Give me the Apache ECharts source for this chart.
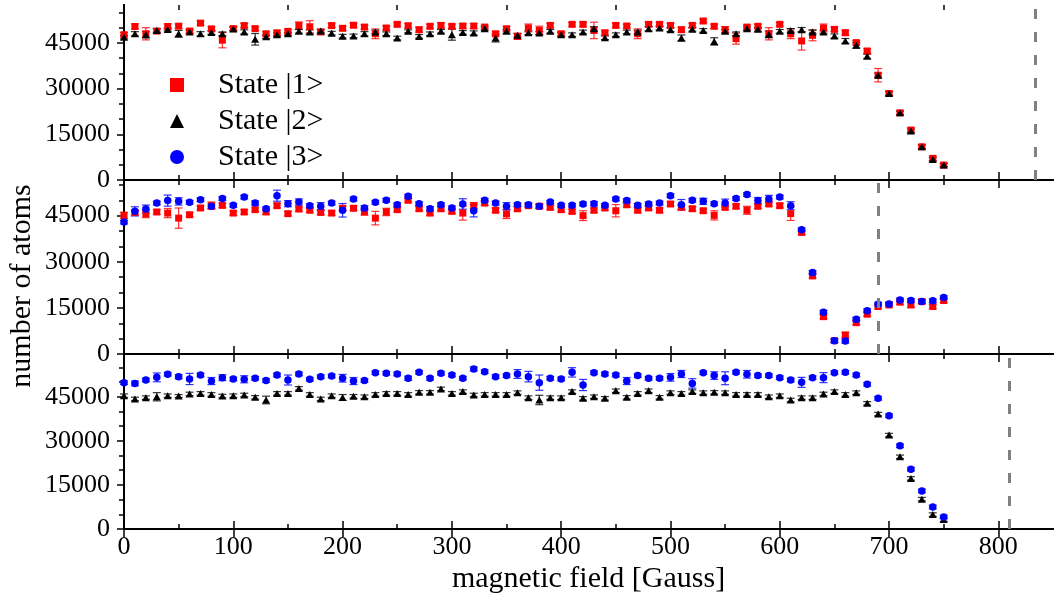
<!DOCTYPE html>
<html><head><meta charset="utf-8">
<script src="https://cdn.jsdelivr.net/npm/echarts@6/dist/echarts.min.js"></script>
<style>html,body{margin:0;padding:0;background:#fff}#c{width:1059px;height:601px}</style>
</head><body><div id="c"></div>
<script>
// ---------- data ----------
const fieldGauss = [0,10,20,30,40,50,60,70,80,90,100,110,120,130,140,150,160,170,180,190,
  200,210,220,230,240,250,260,270,280,290,300,310,320,330,340,350,360,370,380,390,
  400,410,420,430,440,450,460,470,480,490,500,510,520,530,540,550,560,570,580,590,
  600,610,620,630,640,650,660,670,680,690,700,710,720,730,740,750];

// panel 1 (top): state |1> and |2>
const p1State1 = [47700,50400,48000,48900,50400,50500,48900,51500,49600,45900,
  49700,50700,49700,48000,48300,48800,50700,50300,48600,50700,
  49800,50800,50200,48000,49900,51100,50650,49350,50450,50750,
  50450,50550,50550,50200,48000,49650,47150,49900,49100,50750,
  48000,51100,51100,49100,48350,50750,50550,48000,51100,51100,
  50750,49350,50750,52200,50450,49350,46400,50200,50450,48000,
  51100,48000,45650,47500,49900,49450,48350,45100,42350,34400,
  28400,22050,16400,10900,7100,4900];
const p1State1Err = [700,800,2000,700,900,700,600,700,700,2500,
  700,700,600,700,800,700,1200,2000,700,600,
  700,700,700,1600,700,600,700,800,700,900,
  700,700,800,600,700,700,1000,1300,1400,700,
  700,600,700,2700,700,700,600,1600,700,700,
  700,800,700,600,700,1000,1800,700,700,2000,
  600,1600,3000,1800,1300,700,800,700,700,2200,
  700,600,700,600,700,600];
const p1State2 = [46900,48000,47700,49100,49400,48000,48600,48000,48400,48000,
  49600,48600,46200,47000,47700,48000,48800,48600,48900,48200,
  47200,47300,48000,48600,48000,46600,48800,47150,48000,48800,
  47700,48450,48250,49650,46600,48800,47500,48350,48250,48800,
  47700,47700,48600,49650,46700,47700,48600,48600,49650,49900,
  49350,46600,49450,49100,45500,48800,48000,49650,49450,47800,
  48800,49100,49350,48600,48600,47250,45650,44200,40600,34400,
  28400,22050,16050,10900,6750,4900];
const p1State2Err = [600,700,1000,600,500,1100,600,700,600,600,
  600,700,1900,600,600,500,600,700,600,600,
  600,600,700,600,600,600,500,600,600,600,
  1800,600,700,600,1300,600,600,600,500,600,
  600,600,600,700,600,600,600,600,700,600,
  600,1000,600,600,1200,600,600,600,600,1100,
  600,600,700,600,600,700,800,900,700,700,
  600,600,600,600,600,500];

// panel 2 (middle): state |1> and |3>
const p2State1 = [45100,46050,45650,46200,45850,44200,45300,47500,48250,48350,
  45850,46200,46950,46200,48250,45650,47150,46750,46050,45850,
  47400,47400,46200,44200,46200,46950,50000,47250,45850,47250,
  46400,45850,48250,49100,46750,45550,47250,48250,48050,47700,
  46950,46400,45000,46750,47500,46600,48550,46750,47500,46750,
  48800,47700,47250,46600,45100,47700,48050,46750,48050,48800,
  48250,45650,39550,25400,12150,4350,6200,10200,12950,15450,
  15950,16850,15950,17050,15450,17400];
const p2State1Err = [1000,700,1300,700,1500,3300,700,600,1200,700,
  700,700,600,800,700,700,700,600,700,700,
  700,700,1000,2200,1200,700,600,700,800,700,
  700,2300,1000,700,700,1500,700,600,700,700,
  700,700,1600,700,700,2000,700,700,600,700,
  700,700,700,600,1500,700,700,1300,700,700,
  700,2200,700,700,700,600,800,700,700,700,
  700,700,800,700,700,700];
const p2State3 = [42900,46400,47150,49100,49900,49650,49350,50200,48050,50550,
  48350,51050,49100,47250,51500,48900,49450,48250,48050,49100,
  46750,50400,47500,49350,50000,48550,51300,48900,47250,48550,
  47500,48800,46600,50000,49100,48050,48550,48550,48050,49450,
  48350,48350,48800,48900,48350,50400,49900,48350,48800,49100,
  51500,48550,50000,49650,48900,49100,50550,51850,49900,50400,
  51050,48250,40400,26500,13600,4350,4250,11300,14100,16200,
  16300,17600,17400,17050,17300,18350];
const p2State3Err = [600,1500,1300,600,1800,1200,600,600,700,600,
  600,600,700,600,1800,1000,1000,600,1200,600,
  2200,600,700,600,600,600,600,600,700,600,
  600,1700,2000,600,600,1200,600,600,600,500,
  600,600,600,700,600,600,600,600,600,600,
  600,1700,600,1000,600,1300,600,600,1000,1200,
  600,1300,600,600,600,600,700,600,600,600,
  600,600,600,600,600,600];

// panel 3 (bottom): state |2> and |3>
const p3State2 = [45350,44250,44700,45000,45350,45250,45950,46150,45800,45250,
  45350,45600,44800,43900,46150,46150,47850,45800,44250,45350,
  44750,45150,45000,45800,46150,46150,45800,46500,46500,47650,
  46150,46750,45600,45800,45800,45800,46400,44700,43900,44700,
  44700,46750,44450,45000,44450,47050,44800,46150,47050,44800,
  46400,46150,46750,46400,46500,46400,45800,45800,45800,45000,
  45350,43900,44700,44700,45950,46750,45800,46400,42750,39100,
  31950,24550,17200,10150,4900,3200];
const p3State2Err = [600,600,600,1400,600,500,600,600,600,600,
  600,600,600,1300,600,600,600,600,600,600,
  1000,600,600,600,600,600,600,600,600,600,
  600,600,600,600,600,600,600,600,1600,600,
  600,600,600,600,600,600,600,600,600,600,
  600,600,600,600,600,600,600,600,600,600,
  600,600,600,600,600,600,600,600,600,600,
  600,600,600,600,600,600];
const p3State3 = [49800,49550,50700,51600,52650,51850,51050,52400,50350,51500,
  51050,50950,51300,50500,52400,50700,52750,50950,51850,52050,
  51300,50350,50500,53200,53000,52750,51300,53300,51300,53000,
  52400,51300,54450,53550,51850,52200,52750,51850,49800,51300,
  51050,53300,49000,53200,52750,52400,50350,52200,51300,51300,
  51600,52750,49550,53200,52200,51300,53300,52650,52200,52200,
  51500,50700,49900,51500,51500,53200,53300,52400,49250,44450,
  38550,28300,20350,12950,7500,4100];
const p3State3Err = [600,800,600,1500,600,700,1900,600,1200,1000,
  600,1200,600,600,600,1700,600,600,600,600,
  1300,1200,600,600,600,600,700,600,600,600,
  600,600,700,600,600,600,1500,1800,2600,600,
  600,1600,1900,600,600,600,1200,600,600,600,
  1300,1200,1600,600,1300,2200,600,1300,600,600,
  600,600,1700,600,1700,600,600,600,600,600,
  600,600,600,600,600,600];

// dashed reference lines (Gauss), one per panel
const thresholds = [834, 690, 810];

// tick labels
const xMajorTicks = [0,100,200,300,400,500,600,700,800];
const xMinorTicks = [50,150,250,350,450,550,650,750];
const yMajorTicks = [0,15000,30000,45000];
const yMinorTicks = [5000,10000,20000,25000,35000,40000,50000,55000];
const yRightTicks = [5000,10000,15000,20000,25000,30000,35000,40000,45000,50000,55000];
const yMax = [57450, 56600, 59550];

const seriesNames = ['State |1>', 'State |2>', 'State |3>'];
const xTitle = 'magnetic field [Gauss]';
const yTitle = 'number of atoms';

// ---------- chart ----------
const FONT = '"Liberation Serif", "Times New Roman", serif';
const RED = '#ff0000', BLACK = '#000000', BLUE = '#0000ff';
const style1 = {name: seriesNames[0], color: RED, symbol: 'rect', size: 7};
const style2 = {name: seriesNames[1], color: BLACK, symbol: 'triangle', size: [8, 7]};
const style3 = {name: seriesNames[2], color: BLUE, symbol: 'circle', size: 7.5};

const panels = [
  [{...style1, v: p1State1, e: p1State1Err}, {...style2, v: p1State2, e: p1State2Err}],
  [{...style1, v: p2State1, e: p2State1Err}, {...style3, v: p2State3, e: p2State3Err}],
  [{...style2, v: p3State2, e: p3State2Err}, {...style3, v: p3State3, e: p3State3Err}]
];

const grids = [
  {left: 124, right: 6, top: 5, height: 175},
  {left: 124, right: 6, top: 180, height: 174},
  {left: 124, right: 6, top: 354, height: 175}
];

const axLine = {show: true, lineStyle: {color: '#000', width: 2}};
const tickStyle = {color: '#000', width: 1.5};
const xAxes = [], yAxes = [], series = [];

grids.forEach((g, gi) => {
  const last = gi === grids.length - 1;
  const xb = {min: 0, max: 850, type: 'value', gridIndex: gi, splitLine: {show: false}};
  xAxes.push(Object.assign({}, xb, {
    position: 'bottom', axisLine: axLine,
    axisTick: {inside: true, length: 8, lineStyle: tickStyle, customValues: xMajorTicks},
    axisLabel: {show: last, customValues: xMajorTicks, margin: 5, fontSize: 26, color: '#000', fontFamily: FONT,
      formatter: v => String(v)},
    name: last ? xTitle : '', nameLocation: 'middle', nameGap: 35,
    nameTextStyle: {fontSize: 30, color: '#000', fontFamily: FONT}
  }));
  xAxes.push(Object.assign({}, xb, {
    position: 'bottom', axisLine: {show: false},
    axisTick: {inside: true, length: 5, lineStyle: tickStyle, customValues: xMinorTicks},
    axisLabel: {show: false}
  }));
  xAxes.push(Object.assign({}, xb, {
    position: 'top', axisLine: axLine,
    axisTick: {inside: true, length: 8, lineStyle: tickStyle, customValues: xMajorTicks},
    axisLabel: {show: false}
  }));
  xAxes.push(Object.assign({}, xb, {
    position: 'top', axisLine: {show: false},
    axisTick: {inside: true, length: 5, lineStyle: tickStyle, customValues: xMinorTicks},
    axisLabel: {show: false}
  }));
  const yb = {min: 0, max: yMax[gi], type: 'value', gridIndex: gi, splitLine: {show: false}};
  yAxes.push(Object.assign({}, yb, {
    position: 'left', axisLine: axLine,
    axisTick: {inside: false, length: 7, lineStyle: tickStyle, customValues: yMajorTicks},
    axisLabel: {customValues: yMajorTicks, margin: 14, fontSize: 26, color: '#000', fontFamily: FONT,
      formatter: v => String(v)}
  }));
  yAxes.push(Object.assign({}, yb, {
    position: 'left', axisLine: {show: false},
    axisTick: {inside: false, length: 4, lineStyle: tickStyle, customValues: yMinorTicks},
    axisLabel: {show: false}
  }));
  yAxes.push(Object.assign({}, yb, {
    position: 'right', axisLine: axLine,
    axisTick: {inside: true, length: 5, lineStyle: tickStyle, customValues: yRightTicks},
    axisLabel: {show: false}
  }));

  const xi = gi * 4, yi = gi * 3;
  panels[gi].forEach((s, si) => {
    const color = s.color;
    series.push({
      type: 'custom', name: s.name + ' err', xAxisIndex: xi, yAxisIndex: yi, silent: true,
      data: fieldGauss.map((x, i) => [x, s.v[i], s.e[i]]),
      encode: {x: 0, y: 1},
      renderItem: function (params, api) {
        const x = api.value(0), y = api.value(1), e = api.value(2);
        const lo = api.coord([x, y - e]), hi = api.coord([x, y + e]);
        const hw = 4;
        const st = {stroke: color, lineWidth: 1.2, opacity: 0.8};
        return {type: 'group', children: [
          {type: 'line', shape: {x1: lo[0], y1: lo[1], x2: hi[0], y2: hi[1]}, style: st},
          {type: 'line', shape: {x1: lo[0] - hw, y1: lo[1], x2: lo[0] + hw, y2: lo[1]}, style: st},
          {type: 'line', shape: {x1: hi[0] - hw, y1: hi[1], x2: hi[0] + hw, y2: hi[1]}, style: st}
        ]};
      }
    });
    const sc = {
      type: 'scatter', name: s.name, xAxisIndex: xi, yAxisIndex: yi,
      symbol: s.symbol, symbolSize: s.size,
      itemStyle: {color: color, opacity: 1},
      data: fieldGauss.map((x, i) => [x, s.v[i]])
    };
    if (si === 0) {
      sc.markLine = {
        silent: true, symbol: ['none', 'none'], label: {show: false},
        lineStyle: {color: '#808080', type: [10, 13], width: 3, opacity: 1},
        data: [{xAxis: thresholds[gi]}]
      };
    }
    series.push(sc);
  });
});

const chart = echarts.init(document.getElementById('c'), null, {renderer: 'canvas'});
chart.setOption({
  animation: false,
  backgroundColor: '#ffffff',
  grid: grids,
  xAxis: xAxes,
  yAxis: yAxes,
  legend: {
    orient: 'vertical', left: 170, top: 70, padding: 0, itemGap: 6,
    itemWidth: 14, itemHeight: 14, selectedMode: false,
    textStyle: {fontSize: 30, lineHeight: 30, color: '#000', fontFamily: FONT, padding: [0, 0, 0, 29]},
    data: [
      {name: seriesNames[0], icon: 'rect', itemStyle: {color: RED}},
      {name: seriesNames[1], icon: 'triangle', itemStyle: {color: BLACK}},
      {name: seriesNames[2], icon: 'circle', itemStyle: {color: BLUE}}
    ]
  },
  graphic: [{
    type: 'text', x: 22, y: 286, rotation: Math.PI / 2,
    style: {text: yTitle, font: '30px ' + FONT, fill: '#000', align: 'center', verticalAlign: 'middle'}
  }],
  series: series
});
</script>
</body></html>
